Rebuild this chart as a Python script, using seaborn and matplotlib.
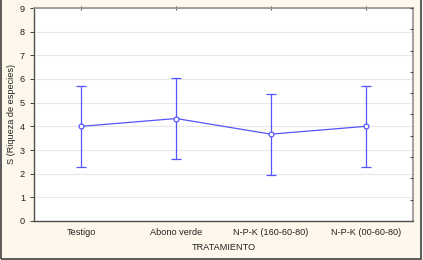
import pandas as pd
import seaborn as sns
import matplotlib
matplotlib.use('Agg')
import matplotlib.pyplot as plt
from matplotlib.patches import Rectangle

# data
tratamientos = ['Testigo', 'Abono verde', 'N-P-K (160-60-80)', 'N-P-K (00-60-80)']
media = [4.0, 4.33, 3.67, 4.0]
lim_inf = [2.3, 2.6, 1.95, 2.3]
lim_sup = [5.7, 6.05, 5.37, 5.7]

df = pd.DataFrame({'TRATAMIENTO': tratamientos, 'S': media})

sns.set_style('white')
plt.rcParams['font.family'] = ['Liberation Sans', 'DejaVu Sans']
fs = 6.6

bg = '#fef8ec'
blue = '#5555ff'

fig = plt.figure(figsize=(4.23, 2.60), dpi=100, facecolor=bg)
ax = fig.add_axes([34/423, 1 - 221/260, 379/423, 213/260])
ax.set_facecolor('white')

# grid
ax.set_axisbelow(True)
ax.grid(True, color='#e8e8e8', linewidth=0.8)

sns.pointplot(data=df, x='TRATAMIENTO', y='S', order=tratamientos, color=blue,
              errorbar=None, markers='o', linewidth=0.9, markersize=3.5,
              markerfacecolor='white', markeredgecolor=blue, markeredgewidth=0.9,
              ax=ax, zorder=3)

x = range(len(tratamientos))
err_low = [m - l for m, l in zip(media, lim_inf)]
err_high = [u - m for m, u in zip(media, lim_sup)]
ax.errorbar(x, media, yerr=[err_low, err_high], fmt='none', ecolor=blue,
            elinewidth=0.9, capsize=3.5, capthick=0.9, zorder=2)

ax.set_xlim(-0.5, 3.5)
ax.set_ylim(0, 9)
ax.set_yticks(range(0, 10))
ax.set_xlabel('TRATAMIENTO', fontsize=fs, color='#222222', labelpad=4)
ax.set_ylabel('S (Riqueza de especies)', fontsize=fs, color='#222222')
ax.yaxis.set_label_coords(-18/379, 0.5)
ax.tick_params(axis='both', labelsize=fs, colors='#222222', length=3, width=0.6,
               direction='out')
ax.tick_params(axis='x', top=True, direction='inout', length=3)

for side in ['left', 'bottom']:
    ax.spines[side].set_color('#505050')
    ax.spines[side].set_linewidth(1.0)
for side in ['top', 'right']:
    ax.spines[side].set_color('#909090')
    ax.spines[side].set_linewidth(1.2)

# right-side inner ticks (10 divisions)
ax2 = ax.twinx()
ax2.set_ylim(0, 10)
ax2.set_yticks(range(0, 11))
ax2.set_yticklabels([])
ax2.tick_params(axis='y', direction='in', length=2, width=0.8, colors='#505050')
for s in ax2.spines.values():
    s.set_visible(False)

# outer frame
fig.patches.append(Rectangle((1/423, 1/260), 420/423, 1.2, transform=fig.transFigure,
                             fill=False, edgecolor='#404040', linewidth=1.2))

fig.savefig('out.png', dpi=100, facecolor=bg)
